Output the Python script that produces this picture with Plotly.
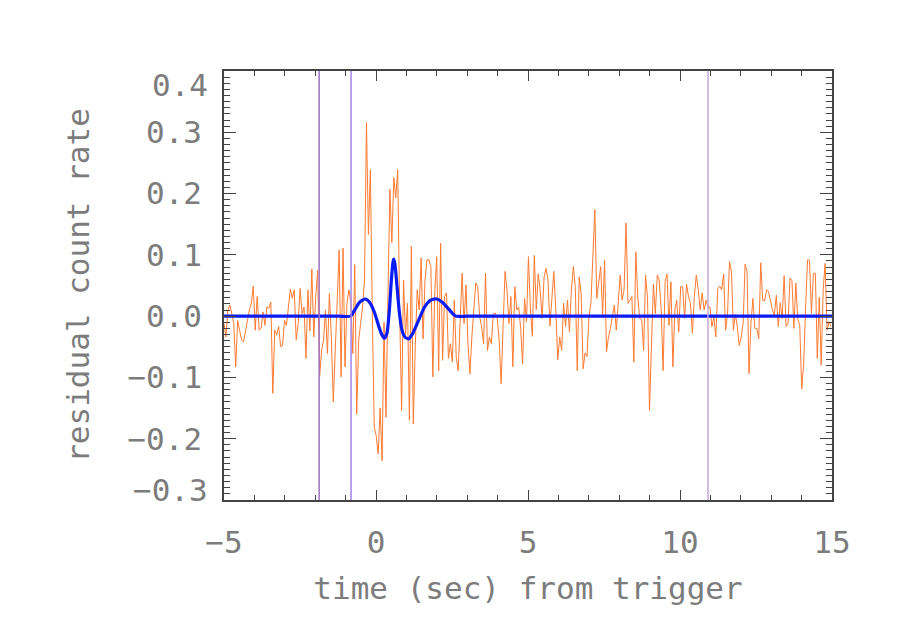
import numpy as np
import plotly.graph_objects as go

# ---- data ----
T0 = -5.0
DT = 0.0642
resid = [
    # -5 .. -1.7
    -0.012, -0.034, 0.010, 0.018, 0.004, -0.012, -0.083, -0.007, -0.023, -0.039,
    -0.042, -0.023, -0.007, 0.010, 0.021, 0.049, -0.023, 0.032, -0.023, -0.020,
    0.007, -0.015, 0.015, 0.013, 0.023, -0.126, -0.023, -0.031, -0.017, -0.050,
    -0.048, -0.007, -0.015, 0.021, 0.044, 0.029, 0.043, -0.039, -0.012, 0.045,
    0.004, 0.015, -0.069, 0.043, -0.024, 0.077, -0.034, 0.032, 0.075, -0.099,
    -0.056,
    # -1.7 .. 1.5
    -0.039, 0.010, -0.061, 0.037, -0.034, -0.140, -0.056, 0.043, 0.108, -0.099,
    0.111, -0.083, 0.021, 0.043, 0.021, -0.061, 0.084, -0.160, -0.039, -0.012,
    0.015, 0.060, 0.316, 0.133, 0.239, 0.000, -0.181, -0.195, -0.225, -0.150,
    -0.236, -0.010, -0.165, 0.032, 0.207, 0.120, 0.226, 0.193, 0.239, 0.010,
    -0.154, 0.059, -0.030, 0.021, -0.170, 0.114, -0.176, -0.050, 0.043, 0.010,
    # 1.5 .. 4.7
    0.095, -0.037, 0.059, 0.092, 0.092, 0.081, -0.099, 0.040, 0.097, -0.089,
    0.119, -0.072, 0.032, 0.038, -0.069, -0.045, -0.075, 0.026, -0.067, -0.089,
    -0.020, 0.070, -0.012, 0.051, -0.045, -0.094, -0.034, 0.010, 0.054, 0.048,
    -0.001, -0.017, -0.045, 0.070, -0.056, -0.034, -0.045, 0.004, 0.005, -0.004,
    -0.040, -0.110, -0.017, 0.073, 0.043, -0.012, 0.032, -0.083, 0.048, 0.010,
    # 4.7 .. 8.0
    0.015, -0.020, -0.078, 0.029, -0.009, 0.097, 0.010, -0.033, 0.099, 0.010,
    0.069, 0.043, -0.004, 0.064, 0.078, 0.059, -0.016, 0.032, 0.073, 0.010,
    -0.071, -0.034, -0.056, 0.021, -0.017, 0.026, -0.026, 0.043, 0.081, 0.048,
    -0.089, 0.064, 0.037, -0.086, -0.060, -0.066, -0.001, 0.021, 0.086, 0.174,
    0.029, 0.054, 0.081, 0.002, 0.091, -0.058, -0.034, -0.020, -0.001, 0.018,
    -0.023,
    # 8.0 .. 11.2
    0.015, 0.067, 0.026, 0.043, 0.152, 0.021, 0.026, 0.032, -0.075, 0.105,
    0.032, -0.004, -0.005, -0.056, 0.067, 0.030, -0.154, -0.040, 0.052, 0.004,
    0.067, 0.059, 0.010, -0.089, 0.056, 0.069, -0.015, 0.056, -0.083, 0.010,
    0.026, -0.026, 0.048, 0.048, -0.004, 0.052, 0.032, 0.021, -0.028, 0.032,
    0.067, 0.043, 0.010, 0.038, 0.010, 0.026, 0.015, 0.015, -0.017, -0.001,
    # 11.2 .. 15
    -0.034, 0.045, 0.049, 0.043, 0.069, -0.023, 0.003, 0.089, 0.073, -0.023,
    0.003, -0.017, -0.048, -0.034, -0.012, 0.085, 0.073, -0.094, -0.012, 0.029,
    -0.020, -0.020, -0.037, 0.087, 0.026, 0.025, 0.043, 0.040, 0.026, 0.010,
    0.002, 0.034, -0.017, 0.022, -0.004, 0.066, -0.017, -0.012, 0.062, 0.058,
    -0.020, 0.054, -0.005, -0.015, -0.119, -0.078, 0.013, 0.092, 0.091, 0.004,
    0.070, 0.070, -0.069, 0.031, -0.080, 0.043, 0.086, -0.023, -0.009, -0.017,
]
resid_t = T0 + DT * np.arange(len(resid))

model_t = [-5.0, -3.0, -1.2, -0.84, -0.7, -0.55, -0.36, -0.2, -0.05, 0.1, 0.2, 0.28, 0.36,
           0.44, 0.5, 0.55, 0.58, 0.62, 0.68, 0.76, 0.85, 0.95, 1.07, 1.2,
           1.4, 1.6, 1.8, 2.0, 2.2, 2.4, 2.62, 3.0, 6.0, 15.0]
model_y = [0.0, 0.0, 0.0, 0.0, 0.010, 0.022, 0.028, 0.022, 0.006, -0.018, -0.031, -0.036, -0.028,
           0.010, 0.055, 0.085, 0.093, 0.086, 0.055, 0.010, -0.022, -0.034, -0.037, -0.029,
           -0.007, 0.015, 0.026, 0.028, 0.022, 0.011, 0.0, 0.0, 0.0, 0.0]

vlines_t = [-1.87, -0.82, 10.92]
vline_colors = ["#9b72c2", "#a384ee", "#c6a8d6"]

x_ticks = [-5, 0, 5, 10, 15]
y_ticks_inner = [-0.2, -0.1, 0.0, 0.1, 0.2, 0.3]
y_range = [-0.3, 0.4]
x_range = [-5, 15]

FONT = "DejaVu Sans Mono"
TXT = "#7c7c7c"
FSIZE = 31

fig = go.Figure()
fig.add_trace(go.Scatter(x=resid_t, y=resid, mode="lines",
                         line=dict(color="#ff7a30", width=1), showlegend=False))
fig.add_trace(go.Scatter(x=model_t, y=model_y, mode="lines",
                         line=dict(color="#0a1cf5", width=3.2, shape="spline", smoothing=0.6),
                         showlegend=False))
for t, c in zip(vlines_t, vline_colors):
    fig.add_shape(type="line", x0=t, x1=t, y0=0, y1=1, xref="x", yref="y domain",
                  line=dict(color=c, width=1.5))

axcol = "#444444"
tfont = dict(family=FONT, size=FSIZE, color=TXT)
fig.update_xaxes(range=x_range, showgrid=False, zeroline=False, showline=True,
                 linecolor=axcol, linewidth=1.5, mirror="ticks", automargin=False,
                 ticks="inside", ticklen=10, tickcolor=axcol, tickwidth=1,
                 tickvals=x_ticks, ticktext=[("\u2212" + str(-v)) if v < 0 else str(v) for v in x_ticks],
                 tickfont=tfont, ticklabelstandoff=14,
                 minor=dict(dtick=1, ticks="inside", ticklen=5, tickcolor=axcol),
                 title=dict(text="time (sec) from trigger", standoff=18, font=tfont))
fig.update_yaxes(range=y_range, showgrid=False, zeroline=False, showline=True,
                 linecolor=axcol, linewidth=1.5, mirror="ticks", automargin=False,
                 ticks="inside", ticklen=12, tickcolor=axcol, tickwidth=1,
                 tickvals=[-0.3] + y_ticks_inner + [0.4],
                 ticktext=[""] + [("\u2212%.1f" % -v) if v < 0 else ("%.1f" % v) for v in y_ticks_inner] + [""],
                 tickfont=tfont, ticklabelstandoff=14,
                 minor=dict(dtick=0.01, ticks="inside", ticklen=6, tickcolor=axcol),
                 title=dict(text="residual count rate", standoff=29, font=tfont))
# edge labels (shifted inward as in the reference)
fig.add_annotation(x=0, xref="paper", xanchor="right", xshift=-14, y=0.4, yref="y",
                   yshift=-14, text="0.4", showarrow=False, font=tfont)
fig.add_annotation(x=0, xref="paper", xanchor="right", xshift=-14, y=-0.3, yref="y",
                   yshift=10, text="\u22120.3", showarrow=False, font=tfont)

fig.update_layout(width=892, height=627, margin=dict(l=216, r=68, t=63, b=135),
                  plot_bgcolor="white", paper_bgcolor="white")
fig.write_html("out.html")
